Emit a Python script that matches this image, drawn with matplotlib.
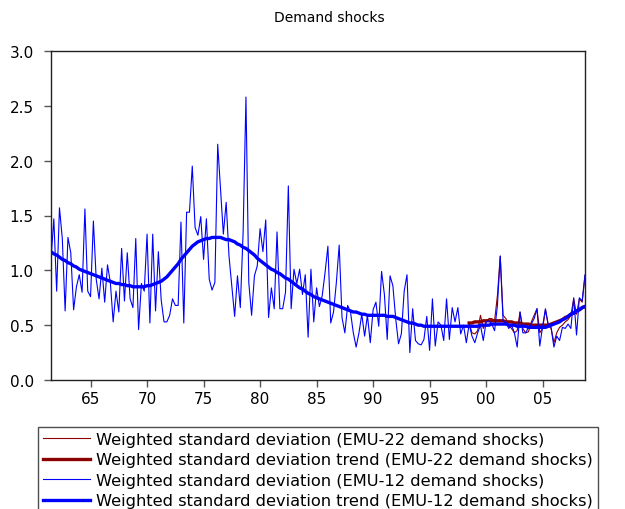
import numpy as np
import pandas as pd
import matplotlib
matplotlib.use("Agg")
import matplotlib.pyplot as plt

plt.rcParams['font.family'] = ['DejaVu Sans']

# quarterly sample 1961Q3 - 2008Q4
quarters = pd.period_range('1961Q3', '2008Q4', freq='Q')
t = quarters.year + (quarters.quarter - 1) / 4.0

emu12_sd = [
    1.10, 1.47, 0.81, 1.57, 1.29, 0.63, 1.30, 1.16, 0.64, 0.85,
    0.96, 0.80, 1.56, 0.81, 0.76, 1.45, 0.92, 0.74, 1.02, 0.71,
    1.05, 0.89, 0.53, 0.81, 0.62, 1.20, 0.72, 1.16, 0.74, 0.66,
    1.29, 0.46, 0.88, 0.81, 1.33, 0.52, 1.33, 0.63, 1.17, 0.73,
    0.53, 0.53, 0.59, 0.74, 0.68, 0.68, 1.44, 0.52, 1.53, 1.53,
    1.95, 1.39, 1.32, 1.49, 1.10, 1.47, 0.92, 0.82, 0.89, 2.15,
    1.74, 1.33, 1.62, 1.13, 0.86, 0.58, 0.95, 0.66, 1.35, 2.58,
    0.89, 0.59, 0.95, 1.04, 1.38, 1.17, 1.46, 0.57, 0.84, 0.65,
    1.35, 0.65, 0.65, 0.80, 1.77, 0.65, 1.01, 0.88, 1.01, 0.78,
    0.96, 0.39, 1.01, 0.53, 0.84, 0.67, 0.77, 0.98, 1.22, 0.52,
    0.62, 0.89, 1.23, 0.57, 0.43, 0.68, 0.62, 0.43, 0.30, 0.43,
    0.60, 0.40, 0.59, 0.34, 0.64, 0.71, 0.49, 0.99, 0.78, 0.37,
    0.95, 0.86, 0.56, 0.33, 0.42, 0.81, 0.96, 0.25, 0.65, 0.36,
    0.33, 0.32, 0.37, 0.58, 0.27, 0.74, 0.31, 0.53, 0.50, 0.36,
    0.74, 0.37, 0.66, 0.53, 0.66, 0.42, 0.50, 0.34, 0.51, 0.40,
    0.34, 0.43, 0.50, 0.36, 0.53, 0.54, 0.51, 0.45, 0.68, 1.13,
    0.54, 0.53, 0.47, 0.50, 0.43, 0.30, 0.62, 0.43, 0.43, 0.48,
    0.51, 0.56, 0.65, 0.31, 0.49, 0.65, 0.50, 0.48, 0.30, 0.40,
    0.36, 0.48, 0.47, 0.51, 0.47, 0.75, 0.41, 0.75, 0.72, 0.96,
]

emu12_trend = [
    1.17, 1.15, 1.14, 1.12, 1.10, 1.09, 1.07, 1.06, 1.04, 1.03, 1.01, 1.00, 0.99, 0.98,
    0.97, 0.96, 0.95, 0.94, 0.93, 0.92, 0.91, 0.90,
    0.89, 0.88, 0.88, 0.87, 0.87, 0.86, 0.86, 0.85,
    0.85, 0.85, 0.85, 0.85, 0.86, 0.86, 0.87, 0.88,
    0.89, 0.90, 0.92, 0.94, 0.97, 1.00, 1.03, 1.06,
    1.10, 1.13, 1.16, 1.19, 1.22, 1.24, 1.26, 1.27,
    1.28, 1.29, 1.29, 1.30, 1.30, 1.30, 1.30, 1.29,
    1.28, 1.28, 1.27, 1.26, 1.24, 1.23, 1.21, 1.20,
    1.18, 1.16, 1.14, 1.11, 1.09, 1.07, 1.05, 1.03,
    1.01, 1.00, 0.98, 0.97, 0.95, 0.93, 0.92, 0.90,
    0.88, 0.86, 0.84, 0.83, 0.81, 0.79, 0.78, 0.76,
    0.75, 0.74, 0.73, 0.72, 0.71, 0.70, 0.69, 0.68,
    0.67, 0.66, 0.65, 0.64, 0.63, 0.62, 0.62, 0.61,
    0.60, 0.60, 0.59, 0.59, 0.59, 0.59, 0.59, 0.59,
    0.59, 0.58, 0.58, 0.58, 0.57, 0.56, 0.55, 0.54,
    0.53, 0.52, 0.52, 0.51, 0.50, 0.50, 0.49, 0.49,
    0.49, 0.49, 0.49, 0.49, 0.49, 0.49, 0.49, 0.49,
    0.49, 0.49, 0.49, 0.49, 0.49, 0.49, 0.49, 0.49,
    0.49, 0.49, 0.50, 0.50, 0.50, 0.50, 0.51, 0.51,
    0.51, 0.51, 0.51, 0.51, 0.50, 0.50, 0.50, 0.49,
    0.49, 0.49, 0.49, 0.48, 0.48, 0.48, 0.48, 0.48,
    0.48, 0.48, 0.49, 0.50, 0.51, 0.52, 0.53, 0.55,
    0.56, 0.58, 0.60, 0.61, 0.63, 0.64, 0.66, 0.67,
]

# EMU-22 series only available from 1998Q3
emu22_start = 148
emu22_sd = [
    0.52, 0.43, 0.42, 0.45, 0.59, 0.47, 0.53, 0.56, 0.56, 0.54,
    0.77, 1.13, 0.59, 0.56, 0.50, 0.47, 0.43, 0.45, 0.62, 0.47,
    0.43, 0.44, 0.53, 0.59, 0.65, 0.43, 0.47, 0.64, 0.50, 0.47,
    0.34, 0.43, 0.48, 0.50, 0.53, 0.55, 0.59, 0.74, 0.60, 0.74, 0.71, 0.95,
]
emu22_trend = [
    0.52, 0.52, 0.53, 0.53, 0.53, 0.54, 0.54, 0.54, 0.54, 0.54,
    0.54, 0.54, 0.54, 0.53, 0.53, 0.53, 0.52, 0.52, 0.52, 0.51,
    0.51, 0.51, 0.50, 0.50, 0.50, 0.50, 0.50, 0.50, 0.50, 0.51,
    0.52, 0.53, 0.54, 0.55, 0.57, 0.58, 0.60, 0.61, 0.63, 0.64, 0.66, 0.67,
]

labels = [
    'Weighted standard deviation (EMU-22 demand shocks)',
    'Weighted standard deviation trend (EMU-22 demand shocks)',
    'Weighted standard deviation (EMU-12 demand shocks)',
    'Weighted standard deviation trend (EMU-12 demand shocks)',
]
year_ticks = [1965, 1970, 1975, 1980, 1985, 1990, 1995, 2000, 2005]

red = '#8b0000'
blue = '#0000ff'

fig = plt.figure(figsize=(6.25, 5.1), dpi=100)
ax = fig.add_axes([51 / 625, 129 / 510, 534 / 625, 329 / 510])

t22 = t[emu22_start:]
l1, = ax.plot(t22, emu22_sd, color=red, lw=0.8)
l2, = ax.plot(t22, emu22_trend, color=red, lw=2.4)
l3, = ax.plot(t, emu12_sd, color=blue, lw=0.8)
l4, = ax.plot(t, emu12_trend, color=blue, lw=2.4)

ax.set_xlim(t[0], t[-1])
ax.set_ylim(0, 3.0)
ax.set_yticks(np.arange(0, 3.01, 0.5))
ax.set_yticklabels(['%.1f' % v for v in np.arange(0, 3.01, 0.5)])
ax.set_xticks(year_ticks)
ax.set_xticklabels(['%02d' % (y % 100) for y in year_ticks])
ax.tick_params(direction='out', length=5, width=1, color='#555555',
               labelsize=11)
ax.tick_params(axis='y', pad=7.5)
ax.tick_params(axis='x', pad=3)
for s in ax.spines.values():
    s.set_color('#222222')
    s.set_linewidth(1.0)

fig.text(329 / 625, 1 - 18 / 510, 'Demand shocks', ha='center', va='center',
         fontsize=10)

leg = fig.legend([l1, l2, l3, l4], labels, loc='upper left',
                 bbox_to_anchor=(38 / 625, 1 - 428 / 510),
                 fontsize=11.7, frameon=True, fancybox=False,
                 edgecolor='#222222', handlelength=2.9, handletextpad=0.37,
                 labelspacing=0.34, borderpad=0.3, borderaxespad=0)
leg.get_frame().set_linewidth(1.0)

fig.savefig('out.png', dpi=100)
